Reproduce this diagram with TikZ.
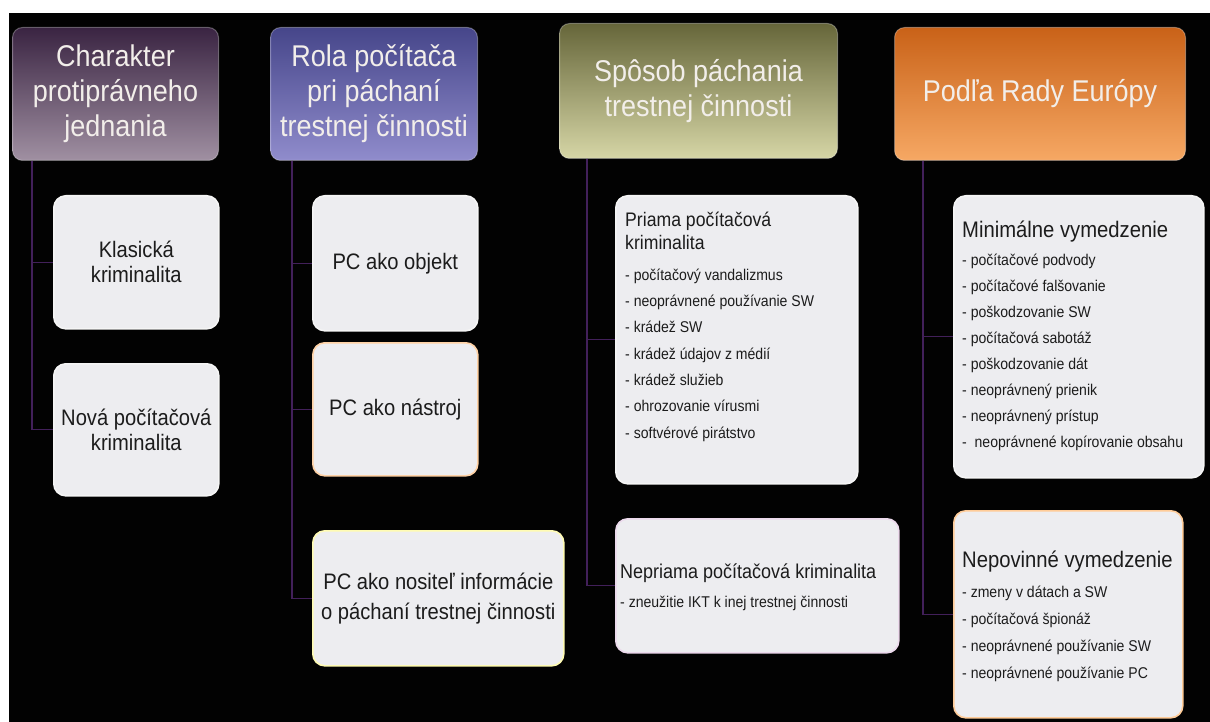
\documentclass[tikz,border=0pt]{standalone}
\usepackage{fontspec}
\newfontfamily\narrowsf{Liberation Sans}[FakeStretch=0.9]

\definecolor{bgblack}{HTML}{020202}
\definecolor{linkpurple}{HTML}{42205A}
\definecolor{boxgray}{HTML}{EDEDF0}
\definecolor{inkgray}{HTML}{1C1C1C}
\definecolor{capwhite}{HTML}{F2EEEA}
\definecolor{plumtop}{HTML}{3A2442}
\definecolor{plumbot}{HTML}{A090A2}
\definecolor{violettop}{HTML}{46468A}
\definecolor{violetbot}{HTML}{908CCC}
\definecolor{olivetop}{HTML}{66663A}
\definecolor{olivebot}{HTML}{D6D6A6}
\definecolor{orangetop}{HTML}{C96218}
\definecolor{orangebot}{HTML}{F6A864}

\begin{document}
\begin{tikzpicture}[x=1pt, y=-1pt,
    header/.style={anchor=north west, rounded corners=10pt, inner sep=2pt, align=center,
        text=capwhite, font=\narrowsf\fontsize{30}{35}\selectfont,
        draw=white, draw opacity=0.3, line width=1pt},
    cell/.style={anchor=north west, rounded corners=12pt, fill=boxgray, draw=white!92!gray,
        line width=1.6pt, align=center, text=inkgray, font=\narrowsf\fontsize{22.4}{25}\selectfont},
    boxtitle/.style={anchor=base west, inner sep=0pt, align=left, text=inkgray},
    itemlist/.style={anchor=base west, inner sep=0pt, align=left, text=inkgray,
        font=\narrowsf\fontsize{15.6}{26.3}\selectfont},
    link/.style={draw=linkpurple, line width=1.3pt}
]
    \useasboundingbox (0,0) rectangle (1210,722);
    \fill[bgblack] (9,13) rectangle (1210,722);

    % headers
    \node[header, top color=plumtop, bottom color=plumbot, minimum width=206pt, minimum height=133pt]
        (h1) at (12,27) {Charakter\\protiprávneho\\jednania};
    \node[header, top color=violettop, bottom color=violetbot, minimum width=207pt, minimum height=133pt]
        (h2) at (270,27) {Rola počítača\\pri páchaní\\trestnej činnosti};
    \node[header, top color=olivetop, bottom color=olivebot, minimum width=278pt, minimum height=135pt]
        (h3) at (559,23) {Spôsob páchania\\trestnej činnosti};
    \node[header, top color=orangetop, bottom color=orangebot, minimum width=291pt, minimum height=133pt]
        (h4) at (894,27) {Podľa Rady Európy};

    % first column
    \node[cell, minimum width=165pt, minimum height=133pt] (k1) at (53,195) {Klasická\\kriminalita};
    \node[cell, minimum width=165pt, minimum height=132pt] (k2) at (53,363) {Nová počítačová\\kriminalita};

    % second column
    \node[cell, minimum width=165pt, minimum height=135pt] (r1) at (312,195) {PC ako objekt};
    \node[cell, draw=orange!35!white, minimum width=165pt, minimum height=133pt] (r2) at (312,342) {PC ako nástroj};
    \node[cell, draw=yellow!30!white, minimum width=251pt, minimum height=135pt,
        font=\narrowsf\fontsize{22.4}{30}\selectfont] (r3) at (312,530)
        {PC ako nositeľ informácie\\o páchaní trestnej činnosti};

    % third column
    \node[cell, minimum width=242pt, minimum height=288pt] (s1) at (615,195) {};
    \node[boxtitle, font=\narrowsf\fontsize{19.6}{23}\selectfont] (s1t) at (625,250)
        {Priama počítačová\\kriminalita};
    \node[itemlist] (s1l) at (625,438) {- počítačový vandalizmus\\- neoprávnené používanie SW\\- krádež SW\\- krádež údajov z médií\\- krádež služieb\\- ohrozovanie vírusmi\\- softvérové pirátstvo};
    \node[cell, draw=violet!15!white, minimum width=283pt, minimum height=134pt] (s2) at (615,518) {};
    \node[boxtitle, font=\narrowsf\fontsize{20}{25}\selectfont] (s2t) at (620,578)
        {Nepriama počítačová kriminalita};
    \node[boxtitle, font=\narrowsf\fontsize{15.6}{26}\selectfont] (s2l) at (620,607)
        {- zneužitie IKT k inej trestnej činnosti};

    % fourth column
    \node[cell, minimum width=250pt, minimum height=282pt] (e1) at (953,195) {};
    \node[boxtitle, font=\narrowsf\fontsize{22.5}{26}\selectfont] (e1t) at (962,237)
        {Minimálne vymedzenie};
    \node[itemlist, font=\narrowsf\fontsize{15.6}{26}\selectfont] (e1l) at (962,447) {- počítačové podvody\\- počítačové falšovanie\\- poškodzovanie SW\\- počítačová sabotáž\\- poškodzovanie dát\\- neoprávnený prienik\\- neoprávnený prístup\\-\ \ neoprávnené kopírovanie obsahu};
    \node[cell, draw=orange!40!white, minimum width=229pt, minimum height=207pt] (e2) at (953,510) {};
    \node[boxtitle, font=\narrowsf\fontsize{22.5}{26}\selectfont] (e2t) at (962,567)
        {Nepovinné vymedzenie};
    \node[itemlist, font=\narrowsf\fontsize{15.6}{27}\selectfont] (e2l) at (962,678) {- zmeny v dátach a SW\\- počítačová špionáž\\- neoprávnené používanie SW\\- neoprávnené používanie PC};

    % connectors
    \draw[link] ([xshift=20pt]h1.south west) |- (k1.west);
    \draw[link] ([xshift=20pt]h1.south west) |- (k2.west);
    \draw[link] ([xshift=22pt]h2.south west) |- (r1.west);
    \draw[link] ([xshift=22pt]h2.south west) |- (r2.west);
    \draw[link] ([xshift=22pt]h2.south west) |- (r3.west);
    \draw[link] ([xshift=28pt]h3.south west) |- (s1.west);
    \draw[link] ([xshift=28pt]h3.south west) |- (s2.west);
    \draw[link] ([xshift=29pt]h4.south west) |- (e1.west);
    \draw[link] ([xshift=29pt]h4.south west) |- (e2.west);
\end{tikzpicture}
\end{document}
